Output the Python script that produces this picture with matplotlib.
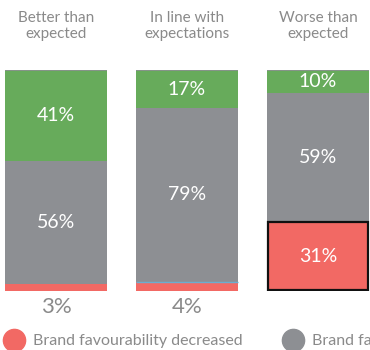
import matplotlib
matplotlib.use('Agg')
import matplotlib.pyplot as plt
from matplotlib.lines import Line2D

plt.rcParams['font.family'] = ['Lato', 'DejaVu Sans']

categories = ['Better than\nexpected', 'In line with\nexpectations', 'Worse than\nexpected']
decreased = [3, 4, 31]
unchanged = [56, 79, 59]
increased = [41, 17, 10]
legend_labels = ['Brand favourability decreased', 'Brand favourability unchanged']

RED = '#f26964'
GREY = '#8d8f93'
GREEN = '#67ab5b'
TEXT = '#8a8a8a'

W, H = 370, 350
fig = plt.figure(figsize=(W / 100, H / 100), dpi=100)

# axes spans full width; bar centres sit 131px apart, first at 56px
x0 = -56 / 131
x1 = (W - 56) / 131
bot, top = 59.3 / H, 279.5 / H
ax = fig.add_axes([0, bot, 1, top - bot])
ax.set_xlim(x0, x1)
ax.set_ylim(0, 100)
ax.axis('off')

xs = list(range(len(categories)))
width = 102 / 131

ax.bar(xs, decreased, width, color=RED, linewidth=0)
ax.bar(xs, unchanged, width, bottom=decreased, color=GREY, linewidth=0)
lows = [d + u for d, u in zip(decreased, unchanged)]
ax.bar(xs, increased, width, bottom=lows, color=GREEN, linewidth=0)

# highlight the worse-than-expected decrease
ax.bar(xs[2], decreased[2], width - 0.012, bottom=0.4, facecolor='none',
       edgecolor='#111111', linewidth=1.6)

# thin grey rim on top of each column
for x, lo, g in zip(xs, lows, increased):
    ax.plot([x - width / 2, x + width / 2], [lo + g, lo + g], color=GREY,
            linewidth=1.2, solid_capstyle='butt')
# blue divider in the middle column
ax.plot([xs[1] - width / 2, xs[1] + width / 2], [decreased[1], decreased[1]],
        color='#6aaed0', linewidth=1.0, solid_capstyle='butt')

for x, d, u, g in zip(xs, decreased, unchanged, increased):
    if d >= 10:
        ax.text(x, d / 2, f'{d}%', ha='center', va='center', color='white', fontsize=14)
    else:
        ax.text(x, -3, f'{d}%', ha='center', va='top', color=TEXT, fontsize=16)
    ax.text(x, d + u / 2, f'{u}%', ha='center', va='center', color='white', fontsize=14)
    ax.text(x, d + u + g / 2, f'{g}%', ha='center', va='center', color='white', fontsize=14)

for x, name in zip(xs, categories):
    fig.text((56 + 131 * x) / W, 1 - 26 / H, name, ha='center', va='center',
             color=TEXT, fontsize=11, linespacing=1.15)

# legend drawn by hand so the second entry runs off the edge
for px, label, col in zip([14, 293], legend_labels, [RED, GREY]):
    fig.add_artist(Line2D([px / W], [1 - 340 / H], marker='o', markersize=16,
                          color=col, linestyle='none', transform=fig.transFigure))
    fig.text((px + 19) / W, 1 - 340.5 / H, label, ha='left', va='center',
             color=TEXT, fontsize=11.5)

fig.savefig('out.png', dpi=100)
